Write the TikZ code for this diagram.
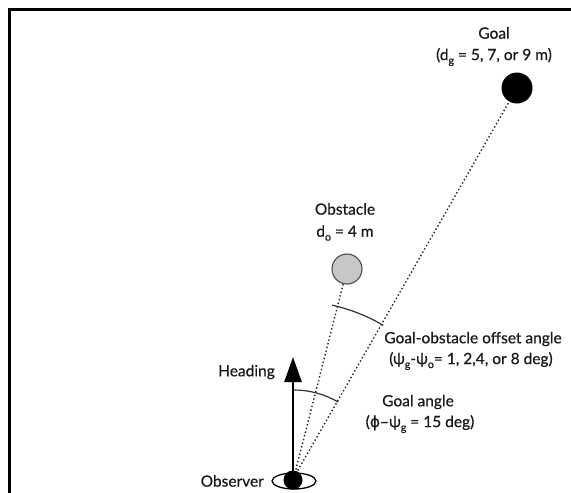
\documentclass[tikz,border=0pt]{standalone}
\usepackage{fontspec}
\setmainfont{Lato}
\newfontfamily\lblfont{Lato}[FakeBold=0.5]
\newfontfamily\gk{DejaVu Sans}[FakeBold=0.5]
\usetikzlibrary{arrows.meta,shapes.geometric}
\newcommand\subs[1]{\raisebox{-0.5ex}{\fontsize{10.5}{10.5}\selectfont #1}}
\begin{document}
\begin{tikzpicture}[x=1pt,y=-1pt,
  font=\lblfont\fontsize{15.5}{17}\selectfont,
  lbl/.style={inner sep=0pt, text=black!90},
  dotline/.style={line width=1.4pt, dash pattern=on 1.4pt off 2.4pt, draw=black!85},
  anglearc/.style={line width=1.2pt, draw=black!80}]
\useasboundingbox (0,0) rectangle (571,493);
\fill[white] (0,0) rectangle (571,493);
\draw[line width=3pt] (9,493) -- (9,9) -- (571,9);

% objects
\coordinate (O) at (294,477);
\node[circle, fill=black, minimum size=31pt, inner sep=0pt] (goal) at (517,88) {};
\node[circle, fill=black!22, draw=black!70, line width=1.1pt, minimum size=30pt, inner sep=0pt] (obs) at (347,269) {};
\coordinate (head) at (293,357);

% sight lines
\draw[dotline] (O) -- (goal);
\draw[dotline] (O) -- (obs);

% angle arcs
\draw[anglearc] (O) ++(-90:87) arc[start angle=-90, end angle=-59.5, radius=87];
\draw[anglearc] (O) ++(-77.5:176) arc[start angle=-77.5, end angle=-59.5, radius=176];

% observer
\node[ellipse, draw=black, line width=1.3pt, minimum width=44pt, minimum height=16pt, inner sep=0pt] (eye) at (294,481) {};
\node[circle, fill=black, minimum size=19pt, inner sep=0pt] (obsv) at (293,480) {};
\draw[line width=2.6pt, -{Triangle[width=17pt,length=25pt]}] (obsv.center) -- (head);

% labels
\node[lbl] (goaltxt) at (494,33) {Goal};
\node[lbl] (goaldist) at (494,57) {(d\subs{g} = 5, 7, or 9 m)};
\node[lbl] (obstxt) at (345,209) {Obstacle};
\node[lbl] (obsdist) at (345,233) {d\subs{o} = 4 m};
\node[lbl] (offtxt) at (473,339) {Goal-obstacle offset angle};
\node[lbl] (offval) at (471,361) {(ψ\subs{g}-ψ\subs{o}= 1, 2,4, or 8 deg)};
\node[lbl] (gatxt) at (418,402) {Goal angle};
\node[lbl] (gaval) at (420,424) {({\gk ϕ}–ψ\subs{g} = 15 deg)};
\node[lbl, anchor=east] (headtxt) at (275,372) {Heading};
\node[lbl, anchor=east] (obstxt2) at (264,481) {Observer};
\end{tikzpicture}
\end{document}
